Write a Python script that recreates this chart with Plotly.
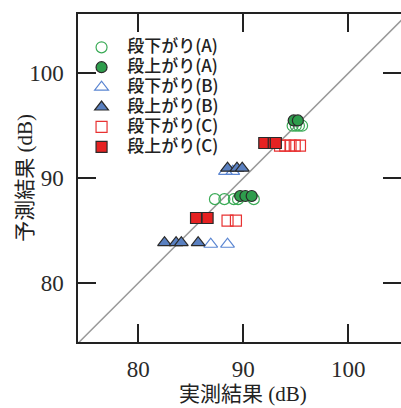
import plotly.graph_objects as go

# Measured (実測) vs predicted (予測) levels in dB
a_down_x = [87.3, 88.2, 89.1, 89.5, 91.0, 94.7, 95.0, 95.3, 95.6]
a_down_y = [88.0, 88.0, 88.0, 88.0, 88.0, 95.0, 95.0, 95.0, 95.0]
a_up_x = [89.7, 90.2, 90.8, 94.8, 95.2]
a_up_y = [88.3, 88.3, 88.3, 95.5, 95.5]
b_down_x = [86.9, 88.5, 88.3, 89.0]
b_down_y = [83.7, 83.7, 90.65, 90.65]
b_up_x = [82.5, 83.6, 84.1, 85.7, 88.5, 89.4, 89.9]
b_up_y = [83.85, 83.85, 83.85, 83.85, 90.95, 90.95, 90.95]
c_down_x = [88.5, 89.3, 93.5, 94.0, 94.5, 94.9, 95.4]
c_down_y = [85.95, 85.95, 93.1, 93.1, 93.1, 93.1, 93.1]
c_up_x = [85.5, 86.6, 92.0, 92.9, 93.1]
c_up_y = [86.2, 86.2, 93.35, 93.35, 93.35]

ref_line = [70, 110]          # y = x
tick_vals = [80, 90, 100]
x_range = [74.26, 105.02]
y_range = [74.38, 105.65]

names = ["段下がり(A)", "段上がり(A)", "段下がり(B)", "段上がり(B)", "段下がり(C)", "段上がり(C)"]

fig = go.Figure()
fig.add_trace(go.Scatter(x=ref_line, y=ref_line, mode="lines",
                         line=dict(color="#9a9a9a", width=1.5),
                         showlegend=False, hoverinfo="skip"))
# same diagonal on the right-hand axis so its mirrored ticks get drawn
fig.add_trace(go.Scatter(x=ref_line, y=ref_line, yaxis="y2", mode="lines",
                         line=dict(color="rgba(0,0,0,0)", width=0),
                         showlegend=False, hoverinfo="skip"))

series = [
    (a_down_x, a_down_y, "circle-open", dict(color="#3bab57", size=11, line=dict(width=1.2))),
    (a_up_x, a_up_y, "circle", dict(color="#2e9d4c", size=11, line=dict(color="#2a2a2a", width=1.2))),
    (b_down_x, b_down_y, "triangle-up-open", dict(color="#5b86d2", size=12, line=dict(width=1.2))),
    (b_up_x, b_up_y, "triangle-up", dict(color="#5a80c0", size=12, line=dict(color="#2a2a2a", width=1.2))),
    (c_down_x, c_down_y, "square-open", dict(color="#e83232", size=11, line=dict(width=1.2))),
    (c_up_x, c_up_y, "square", dict(color="#e62222", size=11, line=dict(color="#2a2a2a", width=1.2))),
]
for (xs, ys, sym, mk), name in zip(series, names):
    fig.add_trace(go.Scatter(
        x=xs, y=ys, mode="markers", marker=dict(symbol=sym, **mk),
        name='<span style="font-size:17px;font-weight:500">\u2004' + name + "</span>"))

axis_font = dict(family="Liberation Serif, Times New Roman, serif", size=23, color="#2a2a2a")
title_font = dict(family="Liberation Serif, Noto Sans CJK JP", size=21, color="#222")
common = dict(tickvals=tick_vals, ticks="inside", ticklen=18, tickwidth=1.5,
              tickcolor="#222", showline=True, linecolor="#222", linewidth=1.5,
              showgrid=False, zeroline=False, tickfont=axis_font)

fig.update_layout(
    width=401, height=408,
    margin=dict(l=78, r=0, t=14, b=66),
    paper_bgcolor="white", plot_bgcolor="white",
    xaxis=dict(range=x_range, mirror="ticks", ticklabelstandoff=6, **common),
    yaxis=dict(range=y_range, mirror=False, ticklabelstandoff=8, **common),
    yaxis2=dict(range=y_range, overlaying="y", side="right", anchor="x",
                tickvals=tick_vals, ticks="inside", ticklen=18, tickwidth=1.5,
                tickcolor="#222", showticklabels=False, showline=False,
                showgrid=False, zeroline=False),
    legend=dict(x=0.011, y=0.944, xanchor="left", yanchor="top",
                bgcolor="rgba(0,0,0,0)",
                font=dict(family="Noto Sans CJK JP", size=13, color="#222")),
    annotations=[
        dict(text="実測結果 (dB)", xref="paper", yref="paper", x=0.51, y=-0.158,
             xanchor="center", yanchor="middle", showarrow=False, font=title_font),
        dict(text="予測結果 (dB)", xref="paper", yref="paper", x=-0.165, y=0.5,
             xanchor="center", yanchor="middle", showarrow=False, textangle=-90,
             font=title_font),
    ],
)

fig.write_html("out.html")
